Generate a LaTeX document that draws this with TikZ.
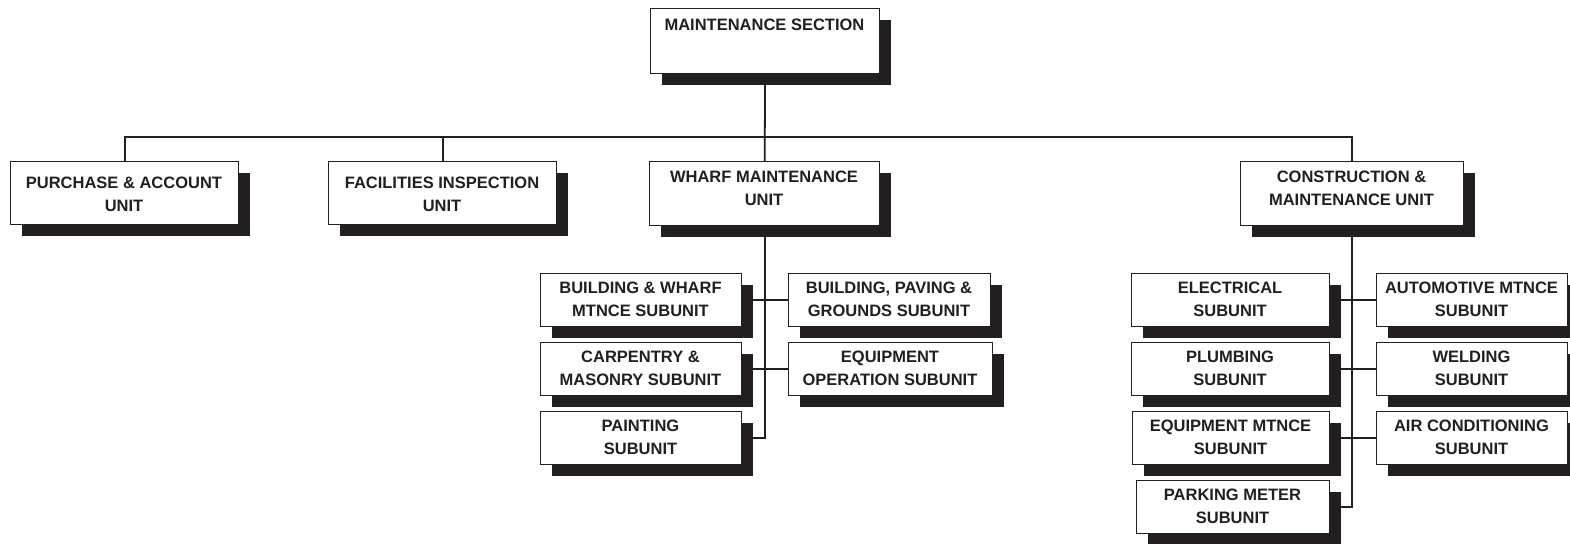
\documentclass[tikz,border=0pt]{standalone}
\usepackage{fontspec}
\setmainfont{Liberation Sans}
\usetikzlibrary{shadows}
\definecolor{ink}{RGB}{35,31,32}
\tikzset{
  orgbox/.style={draw=ink, fill=white, line width=1.3pt, inner sep=0pt, anchor=north west,
    drop shadow={shadow xshift=11pt, shadow yshift=-11pt, fill=ink, opacity=1}},
  lbl/.style={align=center, inner sep=0pt, text=ink, font=\bfseries\fontsize{16.5}{23}\selectfont},
  conn/.style={draw=ink, line width=1.8pt}
}
% name, x1, y1, x2, y2, text centre y, text
\newcommand\obox[7]{%
  \node[orgbox, minimum width={(#4-#2)*1pt}, minimum height={(#5-#3)*1pt}] (#1) at (#2,#3) {};
  \node[lbl] (#1-t) at ({(#2+#4)/2},#6) {#7};
}
\begin{document}
\begin{tikzpicture}[x=1pt,y=-1pt]
\useasboundingbox (0,0) rectangle (1570,543);
% connectors first
\coordinate (bus) at (764,137);
% boxes
\obox{top}{650}{8}{879}{73}{25}{MAINTENANCE SECTION}
\obox{purch}{10}{161}{238}{224}{194}{PURCHASE \& ACCOUNT\\UNIT}
\obox{fac}{328}{161}{556}{224}{194}{FACILITIES INSPECTION\\UNIT}
\obox{wharf}{649}{161}{879}{225}{188.5}{WHARF MAINTENANCE\\UNIT}
\obox{cons}{1240}{161}{1463}{225}{188.5}{CONSTRUCTION \&\\MAINTENANCE UNIT}
% wharf subunits
\obox{bw}{540}{273}{741}{326}{299.5}{BUILDING \& WHARF\\MTNCE SUBUNIT}
\obox{bpg}{788}{273}{990}{326}{299.5}{BUILDING, PAVING \&\\GROUNDS SUBUNIT}
\obox{carp}{540}{342}{741}{395}{368.5}{CARPENTRY \&\\MASONRY SUBUNIT}
\obox{eqop}{788}{342}{992}{395}{368.5}{EQUIPMENT\\OPERATION SUBUNIT}
\obox{paint}{540}{411}{741}{464}{437.5}{PAINTING\\SUBUNIT}
% construction subunits
\obox{elec}{1131}{273}{1329}{326}{299.5}{ELECTRICAL\\SUBUNIT}
\obox{auto}{1376}{273}{1567}{326}{299.5}{AUTOMOTIVE MTNCE\\SUBUNIT}
\obox{plum}{1131}{342}{1329}{395}{368.5}{PLUMBING\\SUBUNIT}
\obox{weld}{1376}{342}{1567}{395}{368.5}{WELDING\\SUBUNIT}
\obox{eqm}{1132}{411}{1329}{464}{437.5}{EQUIPMENT MTNCE\\SUBUNIT}
\obox{air}{1376}{411}{1567}{464}{437.5}{AIR CONDITIONING\\SUBUNIT}
\obox{park}{1136}{480}{1329}{533}{506.5}{PARKING METER\\SUBUNIT}
% connectors
\draw[conn] (top.south) -- (wharf.north);
\draw[conn] (purch.north) -- ++(0,-24) -| (cons.north);
\draw[conn] (fac.north) -- ++(0,-24);
\draw[conn] (wharf.south) |- (paint.east);
\draw[conn] (bw.east) -- (bpg.west);
\draw[conn] (carp.east) -- (eqop.west);
\draw[conn] (cons.south) |- (park.east);
\draw[conn] (elec.east) -- (auto.west);
\draw[conn] (plum.east) -- (weld.west);
\draw[conn] (eqm.east) -- (air.west);
\end{tikzpicture}
\end{document}
